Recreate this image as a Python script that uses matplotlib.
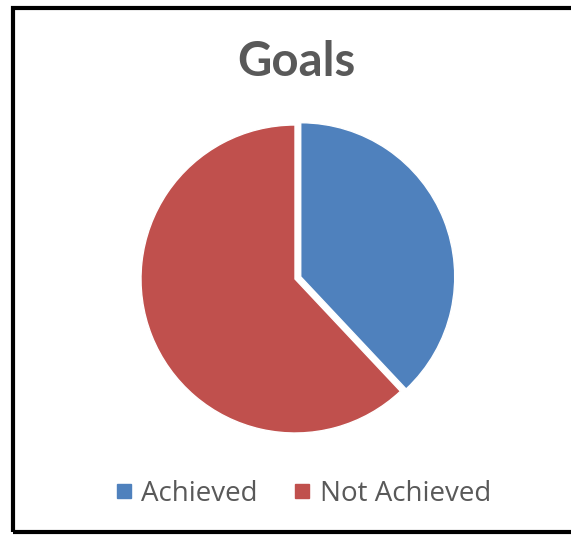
import matplotlib.pyplot as plt
from matplotlib.lines import Line2D
from matplotlib.patches import Rectangle

# Goals pie data
labels = ['Achieved', 'Not Achieved']
values = [38, 62]
colors = ['#4F81BD', '#C0504D']
explode = [0.04, 0]

W, H = 571, 535
fig = plt.figure(figsize=(W / 100, H / 100), dpi=100)
fig.patch.set_facecolor('white')

# black frame around the chart (right edge runs off the picture)
fig.add_artist(Rectangle((13 / W, 1 - 532 / H), 600 / W, 524 / H,
                         transform=fig.transFigure, fill=False,
                         edgecolor='black', linewidth=3))

# pie axes: centre ~(295, 279) px, radius ~154 px
cx, cy, r = 295, 279, 154
ax = fig.add_axes([(cx - r) / W, (H - cy - r) / H, 2 * r / W, 2 * r / H])
ax.pie(values, colors=colors, explode=explode, startangle=90, counterclock=False,
       wedgeprops=dict(edgecolor='white', linewidth=1))
ax.set_xlim(-1, 1)
ax.set_ylim(-1, 1)
ax.axis('off')

fig.text(296 / W, 1 - 62 / H, 'Goals', ha='center', va='center',
         fontsize=34, fontweight='bold', color='#595959', family='Lato')

handles = [Line2D([], [], marker='s', linestyle='none', markersize=9.5,
                  markerfacecolor=c, markeredgecolor=c) for c in colors]
fig.legend(handles, labels, loc='center', bbox_to_anchor=(303 / W, 1 - 494 / H),
           ncol=2, frameon=False, handlelength=0.6, handletextpad=0.33,
           columnspacing=1.3, prop={'family': 'Open Sans', 'size': 20},
           labelcolor='#595959')

fig.savefig('out.png', dpi=100)
